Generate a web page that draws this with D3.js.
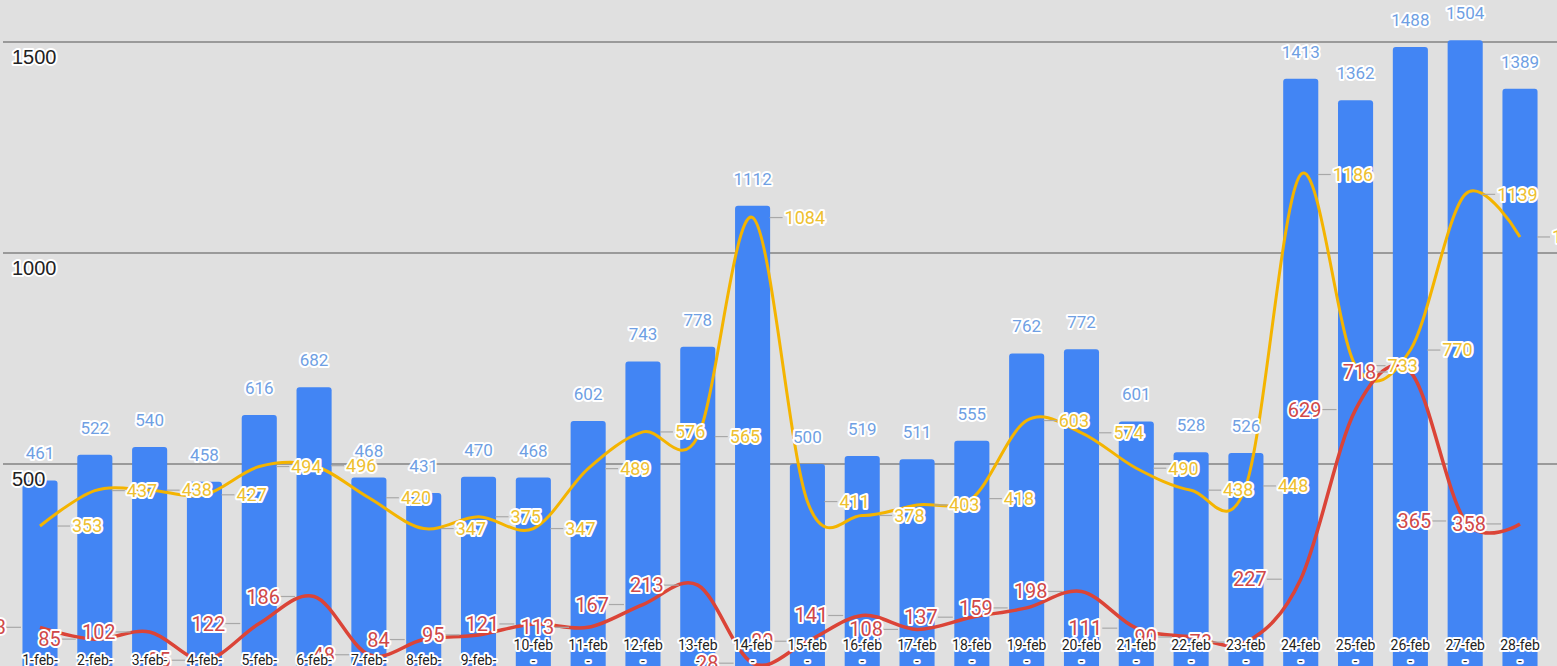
<!DOCTYPE html>
<html>
<head>
<meta charset="utf-8">
<script src="https://cdn.jsdelivr.net/npm/d3@7"></script>
<style>
  html, body { margin: 0; padding: 0; background: #e0e0e0; overflow: hidden; }
  svg { display: block; }
  .halo { paint-order: stroke; stroke: #fff; stroke-linejoin: round; }
</style>
</head>
<body>
<svg id="chart" width="1557" height="666"></svg>
<script>
// chart values
const dates = ['1-feb', '2-feb', '3-feb', '4-feb', '5-feb', '6-feb', '7-feb', '8-feb', '9-feb', '10-feb',
  '11-feb', '12-feb', '13-feb', '14-feb', '15-feb', '16-feb', '17-feb', '18-feb', '19-feb', '20-feb',
  '21-feb', '22-feb', '23-feb', '24-feb', '25-feb', '26-feb', '27-feb', '28-feb']
const totals = [461, 522, 540, 458, 616, 682, 468, 431, 470, 468, 602, 743, 778, 1112,
  500, 519, 511, 555, 762, 772, 601, 528, 526, 1413, 1362, 1488, 1504, 1389]
const yellowValues = [353, 437, 438, 427, 494, 496, 420, 347, 375, 347, 489, 576, 565, 1084,
  411, 378, 403, 418, 603, 574, 490, 438, 448, 1186, 733, 770, 1139, 1038]
const redValues = [113, 85, 102, 35, 122, 186, 48, 84, 95, 121, 113, 167, 213, 28,
  80, 141, 108, 137, 159, 198, 111, 90, 78, 227, 629, 718, 365, 358]
const yTicks = [500, 1000, 1500]

const width = 1557
const svg = d3.select('#chart')

const xScale = d3.scaleBand()
  .domain(dates)
  .range([12.6, 1547.4])
  .paddingInner(0.36)
  .paddingOuter(0.18)

const yScale = d3.scaleLinear()
  .domain([0, 1500])
  .range([675, 42])

const cx = d => xScale(d) + xScale.bandwidth() / 2

// gridlines
svg.append('g')
  .selectAll('line')
  .data(yTicks)
  .enter()
  .append('line')
  .attr('x1', 3)
  .attr('x2', width)
  .attr('y1', d => yScale(d))
  .attr('y2', d => yScale(d))
  .attr('stroke', '#9a9a9a')
  .attr('stroke-width', 2)

// bars
svg.append('g')
  .selectAll('rect')
  .data(dates)
  .enter()
  .append('rect')
  .attr('x', d => xScale(d))
  .attr('y', (d, i) => yScale(totals[i]))
  .attr('width', xScale.bandwidth())
  .attr('height', (d, i) => yScale(0) - yScale(totals[i]))
  .attr('rx', 3)
  .attr('fill', '#4285f4')

// lines
const line = values => d3.line()
  .x((d, i) => cx(dates[i]))
  .y(d => yScale(d))
  .curve(d3.curveCardinal)(values)

svg.append('path')
  .attr('d', line(yellowValues))
  .attr('fill', 'none')
  .attr('stroke', '#f4b400')
  .attr('stroke-width', 3)

svg.append('path')
  .attr('d', line(redValues))
  .attr('fill', 'none')
  .attr('stroke', '#db4437')
  .attr('stroke-width', 3.5)

// leader lines
const leaders = svg.append('g').attr('stroke', '#a8a8a8').attr('stroke-width', 1.2)
yellowValues.forEach((v, i) => {
  const x = cx(dates[i])
  leaders.append('line')
    .attr('x1', x + 17).attr('x2', x + 30)
    .attr('y1', yScale(v)).attr('y2', yScale(v))
})
redValues.forEach((v, i) => {
  const x = cx(dates[i])
  leaders.append('line')
    .attr('x1', x - 34).attr('x2', x - 19)
    .attr('y1', yScale(v)).attr('y2', yScale(v))
})

// bar value labels
svg.append('g')
  .selectAll('text')
  .data(totals)
  .enter()
  .append('text')
  .attr('class', 'halo')
  .attr('x', (d, i) => cx(dates[i]))
  .attr('y', d => yScale(d) - 21)
  .attr('text-anchor', 'middle')
  .style('font', '17px Roboto, sans-serif')
  .style('fill', '#6f9fe3')
  .style('stroke-width', '4px')
  .text(d => d)

// yellow series labels, to the right of the points
svg.append('g')
  .selectAll('text')
  .data(yellowValues)
  .enter()
  .append('text')
  .attr('class', 'halo')
  .attr('x', (d, i) => cx(dates[i]) + 32)
  .attr('y', d => yScale(d))
  .attr('dy', '0.35em')
  .style('font', '18px Roboto, sans-serif')
  .style('fill', '#eec030')
  .style('stroke-width', '4px')
  .text(d => d)

// red series labels, to the left of the points
svg.append('g')
  .selectAll('text')
  .data(redValues)
  .enter()
  .append('text')
  .attr('class', 'halo')
  .attr('x', (d, i) => cx(dates[i]) - 34)
  .attr('y', d => yScale(d))
  .attr('dy', '0.35em')
  .attr('text-anchor', 'end')
  .style('font', '20px Roboto, sans-serif')
  .style('fill', '#d04848')
  .style('stroke-width', '4px')
  .text(d => d)

// y axis labels, inside the plot under each gridline
svg.append('g')
  .selectAll('text')
  .data(yTicks)
  .enter()
  .append('text')
  .attr('class', 'halo')
  .attr('x', 12)
  .attr('y', d => yScale(d) + 22)
  .style('font', '20px "Liberation Sans", Arial, sans-serif')
  .style('fill', '#222')
  .style('stroke-width', '4px')
  .text(d => d)

// x axis labels, wrapped like the original
const xLabels = svg.append('g')
  .selectAll('text')
  .data(dates)
  .enter()
  .append('text')
  .attr('class', 'halo')
  .attr('x', d => cx(d))
  .attr('text-anchor', 'middle')
  .style('font', '14px Roboto, sans-serif')
  .style('fill', '#222')
  .style('stroke-width', '4px')

xLabels.each(function (d) {
  const t = d3.select(this)
  if (d.length < 6) {
    t.append('tspan').attr('x', cx(d)).attr('y', 665).text(d + '-')
  } else {
    t.append('tspan').attr('x', cx(d)).attr('y', 650).text(d)
    t.append('tspan').attr('x', cx(d)).attr('y', 666).text('-')
  }
})
</script>
</body>
</html>
